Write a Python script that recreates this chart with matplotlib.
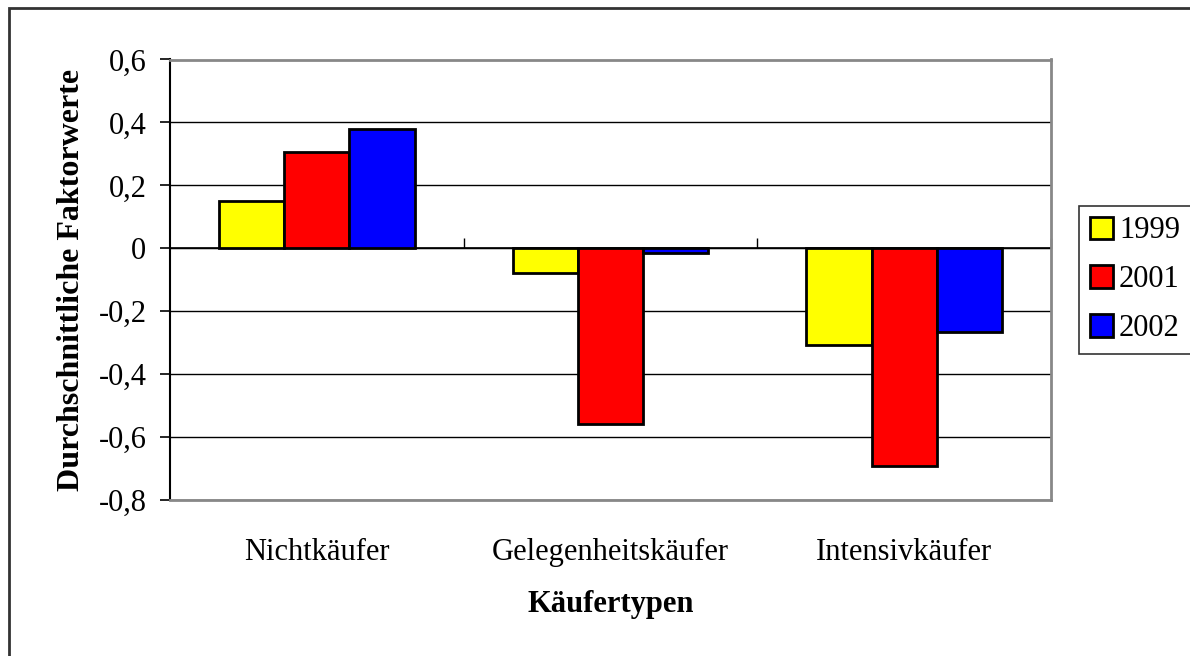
import numpy as np
import matplotlib
matplotlib.use("Agg")
import matplotlib.pyplot as plt
from matplotlib.patches import Rectangle

plt.rcParams['font.family'] = ['Liberation Serif', 'DejaVu Serif']

# data
categories = ["Nichtkäufer", "Gelegenheitskäufer", "Intensivkäufer"]
years = ["1999", "2001", "2002"]
vals_1999 = [0.149, -0.078, -0.306]
vals_2001 = [0.305, -0.558, -0.691]
vals_2002 = [0.378, -0.016, -0.267]
colors = ["#ffff00", "#ff0000", "#0000ff"]
yticks = [0.6, 0.4, 0.2, 0, -0.2, -0.4, -0.6, -0.8]
ytick_labels = ["0,6", "0,4", "0,2", "0", "-0,2", "-0,4", "-0,6", "-0,8"]

fig = plt.figure(figsize=(11.9, 6.56), dpi=100)
# outer chart frame (cut off at right and bottom like the reference)
fig.patches.append(Rectangle((9 / 1190, -0.1), 1.2, 1 - 8 / 656 + 0.1,
                             transform=fig.transFigure, fill=False,
                             edgecolor="#333333", linewidth=2))

ax = fig.add_axes([170 / 1190, 1 - 500 / 656, 881 / 1190, 440.5 / 656])

x = np.arange(len(categories))
w = 1 / 4.5
for i, (vals, lab) in enumerate(zip([vals_1999, vals_2001, vals_2002], years)):
    ax.bar(x + (i - 1) * w, vals, width=w, color=colors[i], edgecolor="black",
           linewidth=2, label=lab, zorder=3)

ax.set_xlim(-0.5, 2.5)
ax.set_ylim(-0.8, 0.6)
ax.set_yticks(yticks)
ax.set_yticklabels(ytick_labels, fontsize=22)
ax.yaxis.grid(True, color="black", linewidth=1)
ax.set_axisbelow(True)
ax.tick_params(axis="y", direction="out", length=7, width=1.2, pad=10)

ax.set_xticks(x)
ax.set_xticklabels(categories, fontsize=22)
ax.tick_params(axis="x", length=0, pad=27)

for s in ["top", "right", "bottom"]:
    ax.spines[s].set_color("#888888")
    ax.spines[s].set_linewidth(2)
ax.spines["left"].set_color("black")
ax.spines["left"].set_linewidth(1.5)

# category axis at zero with boundary ticks
ax.axhline(0, color="black", linewidth=1.2, zorder=2)
sec = ax.secondary_xaxis(0.8 / 1.4)
sec.set_xticks([0.5, 1.5, 2.5])
sec.set_xticklabels([])
sec.tick_params(direction="out", length=7, width=1)
sec.spines["bottom"].set_visible(False)

ax.set_xlabel("Käufertypen", fontsize=22, fontweight="bold", labelpad=17)
ax.set_ylabel("Durchschnittliche Faktorwerte", fontsize=23, fontweight="bold",
              labelpad=9)

leg = ax.legend(loc="center left", bbox_to_anchor=(1.032, 0.5), fontsize=22,
                frameon=True, fancybox=False, edgecolor="black",
                borderaxespad=0, handlelength=0.75, handleheight=0.75,
                handletextpad=0.2, labelspacing=0.65, borderpad=0.35)
leg.get_frame().set_linewidth(1.2)

fig.savefig("out.png", dpi=100)
